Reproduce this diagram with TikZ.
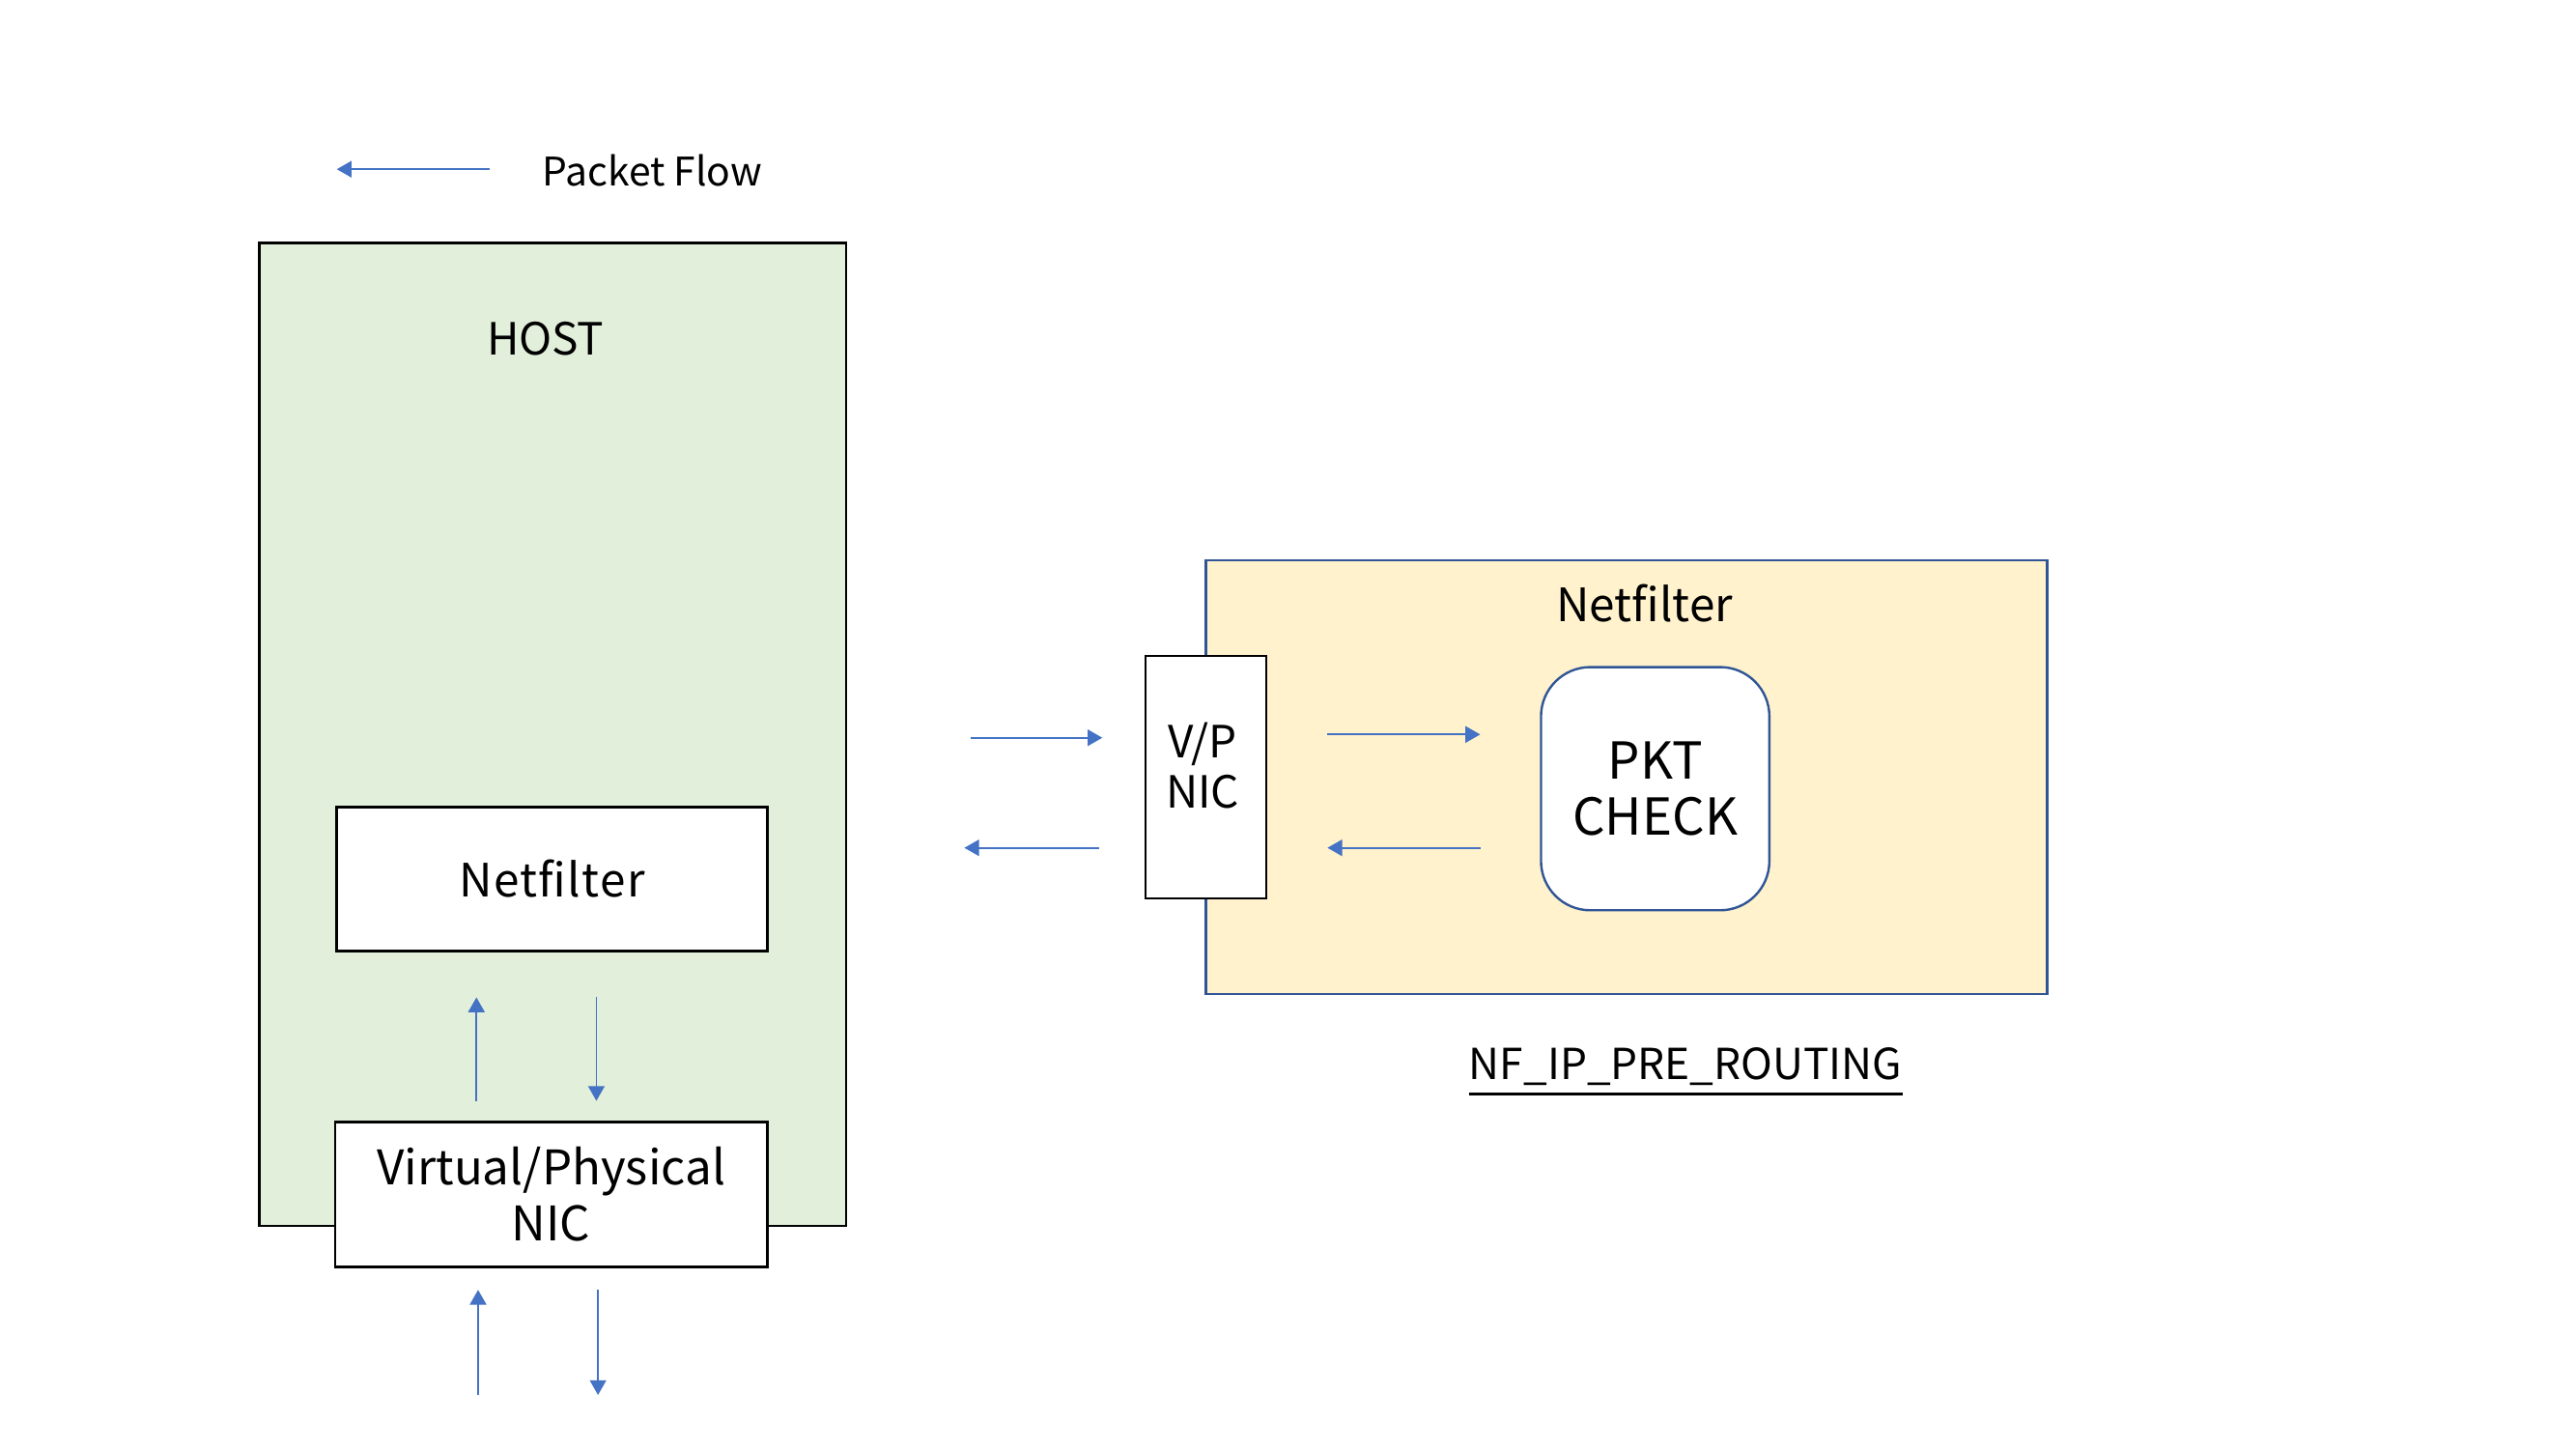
\documentclass[tikz,border=0pt]{standalone}
\usepackage{fontspec}
\setmainfont{Noto Sans CJK JP}
\usetikzlibrary{arrows.meta}
\definecolor{hostgreen}{HTML}{E2EFDA}
\definecolor{nfyellow}{HTML}{FFF2CC}
\definecolor{flowblue}{HTML}{4472C4}
\definecolor{edgeblue}{HTML}{2F5597}
\tikzset{
  flow/.style={draw=flowblue, line width=1pt, -{Triangle[length=9pt,width=10pt]}},
  whitebox/.style={draw=black, line width=1.6pt, fill=white, inner sep=0pt},
  lbl/.style={inner sep=0pt, align=center, text=black}
}
\begin{document}
\begin{tikzpicture}[x=1pt,y=-1pt]
\useasboundingbox (0,0) rectangle (1568,882);
% legend
\coordinate (lgS) at (298,103);
\coordinate (lgE) at (205,103);
\draw[flow] (lgS) -- (lgE);
\node[lbl, anchor=west, font=\fontsize{24}{28}\selectfont] (legend) at (330,104) {Packet Flow};
% host
\node[draw=black, line width=1.6pt, fill=hostgreen, minimum width=357pt, minimum height=598pt, inner sep=0pt] (host) at (336.5,447) {};
\node[lbl, font=\fontsize{27}{30}\selectfont] (hostlbl) at (332,206) {HOST};
\node[whitebox, minimum width=262pt, minimum height=88pt, font=\fontsize{28}{32}\selectfont\addfontfeature{LetterSpace=3}] (nfhost) at (336,535) {Netfilter};
\node[whitebox, minimum width=263pt, minimum height=88pt, font=\fontsize{29}{34}\selectfont, align=center] (nichost) at (335.5,727) {Virtual/Physical\\NIC};
\coordinate (u1s) at (290,670); \coordinate (u1e) at (290,607);
\coordinate (d1s) at (363,607); \coordinate (d1e) at (363,670);
\draw[flow] (u1s) -- (u1e);
\draw[flow] (d1s) -- (d1e);
\coordinate (u2s) at (291,849); \coordinate (u2e) at (291,785);
\coordinate (d2s) at (364,785); \coordinate (d2e) at (364,849);
\draw[flow] (u2s) -- (u2e);
\draw[flow] (d2s) -- (d2e);
% netfilter detail
\node[draw=edgeblue, line width=1.4pt, fill=nfyellow, minimum width=512pt, minimum height=264pt, inner sep=0pt] (nfbox) at (990,473) {};
\node[lbl, font=\fontsize{28}{32}\selectfont] (nflbl) at (1001,367) {Netfilter};
\node[whitebox, line width=1.2pt, minimum width=74pt, minimum height=148pt] (vpnic) at (734,473) {};
\node[lbl, font=\fontsize{27}{31}\selectfont] (vpnictext) at (732,466) {V/P\\NIC};
\node[draw=edgeblue, line width=1.4pt, fill=white, rounded corners=30pt, minimum width=139pt, minimum height=148pt, inner sep=0pt, align=center, font=\fontsize{31}{34}\selectfont] (pkt) at (1007.5,480) {PKT\\CHECK};
\coordinate (r1s) at (591,449); \coordinate (r1e) at (671,449);
\coordinate (l1s) at (669,516); \coordinate (l1e) at (587,516);
\coordinate (r2s) at (808,447); \coordinate (r2e) at (901,447);
\coordinate (l2s) at (901,516); \coordinate (l2e) at (808,516);
\draw[flow] (r1s) -- (r1e);
\draw[flow] (l1s) -- (l1e);
\draw[flow] (r2s) -- (r2e);
\draw[flow] (l2s) -- (l2e);
\node[lbl, font=\fontsize{26}{30}\selectfont] (hook) at (1026,649) {NF\_IP\_PRE\_ROUTING};
\draw[black, line width=1.4pt] ([yshift=-5pt]hook.south west) -- ([yshift=-5pt]hook.south east);
\end{tikzpicture}
\end{document}
